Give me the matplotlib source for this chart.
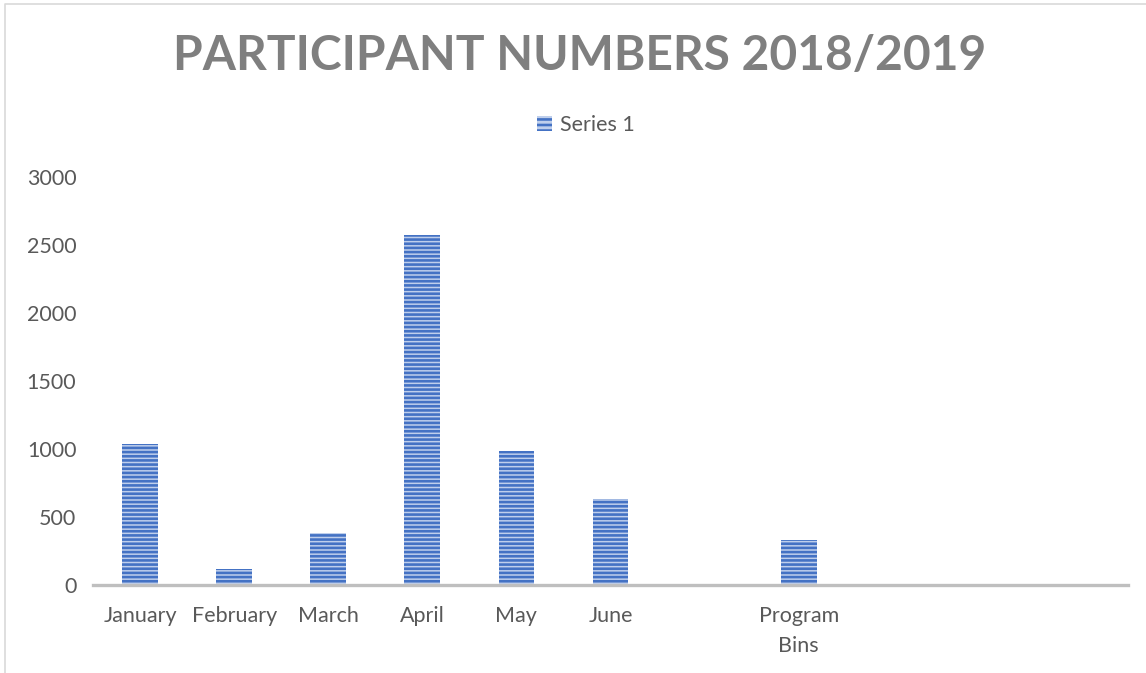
import matplotlib
matplotlib.use("Agg")
import matplotlib.pyplot as plt
from matplotlib.lines import Line2D
from matplotlib.patches import Patch

plt.rcParams['font.family'] = ['Lato', 'DejaVu Sans']
plt.rcParams['hatch.linewidth'] = 1.9

# data
categories = ['January', 'February', 'March', 'April', 'May', 'June', '',
              'Program\nBins', '', '', '']
values = [1040, 118, 382, 2572, 985, 632, 0, 331, 0, 0, 0]
yticks = [0, 500, 1000, 1500, 2000, 2500, 3000]
title = 'PARTICIPANT NUMBERS 2018/2019'

W, H = 1146, 673
fig = plt.figure(figsize=(W / 100, H / 100), dpi=100)

# chart frame (only left and top edges are visible in the crop)
fig.add_artist(Line2D([5 / W, 5 / W, 1.0], [0.0, 1 - 4 / H, 1 - 4 / H],
                      transform=fig.transFigure, color='#D9D9D9', lw=1.2))

ax = fig.add_axes([93 / W, 1 - 585 / H, (1128 - 93) / W, (585 - 177) / H])

x = list(range(len(categories)))
bars = [v if v > 0 else float('nan') for v in values]
ax.bar(x, bars, width=0.38, color='#BFCFEC', edgecolor='#4472C4',
       linewidth=0, hatch='----')

ax.set_xlim(-0.5, len(categories) - 0.5)
ax.set_ylim(0, 3000)
ax.set_yticks(yticks)
ax.set_yticklabels([str(t) for t in yticks])
ax.set_xticks(x)
ax.set_xticklabels(categories, linespacing=1.62)

for s in ['top', 'right', 'left']:
    ax.spines[s].set_visible(False)
ax.spines['bottom'].set_color('#BFBFBF')
ax.spines['bottom'].set_linewidth(2.4)
ax.tick_params(axis='both', length=0, labelsize=15.5, colors='#595959')
ax.tick_params(axis='x', pad=15)
ax.tick_params(axis='y', pad=12)

fig.text(580 / W, 1 - 56 / H, title, ha='center', va='center',
         fontsize=34.5, fontweight='bold', color='#7F7F7F')

leg = fig.legend(handles=[Patch(facecolor='#BFCFEC', edgecolor='#4472C4', hatch='---',
                                linewidth=0, label='Series 1')],
                 loc='center', bbox_to_anchor=(586 / W, 1 - 125 / H), frameon=False,
                 fontsize=15.5, handlelength=0.7, handleheight=0.7, handletextpad=0.4)
for t in leg.get_texts():
    t.set_color('#595959')

fig.savefig('out.png', dpi=100)
